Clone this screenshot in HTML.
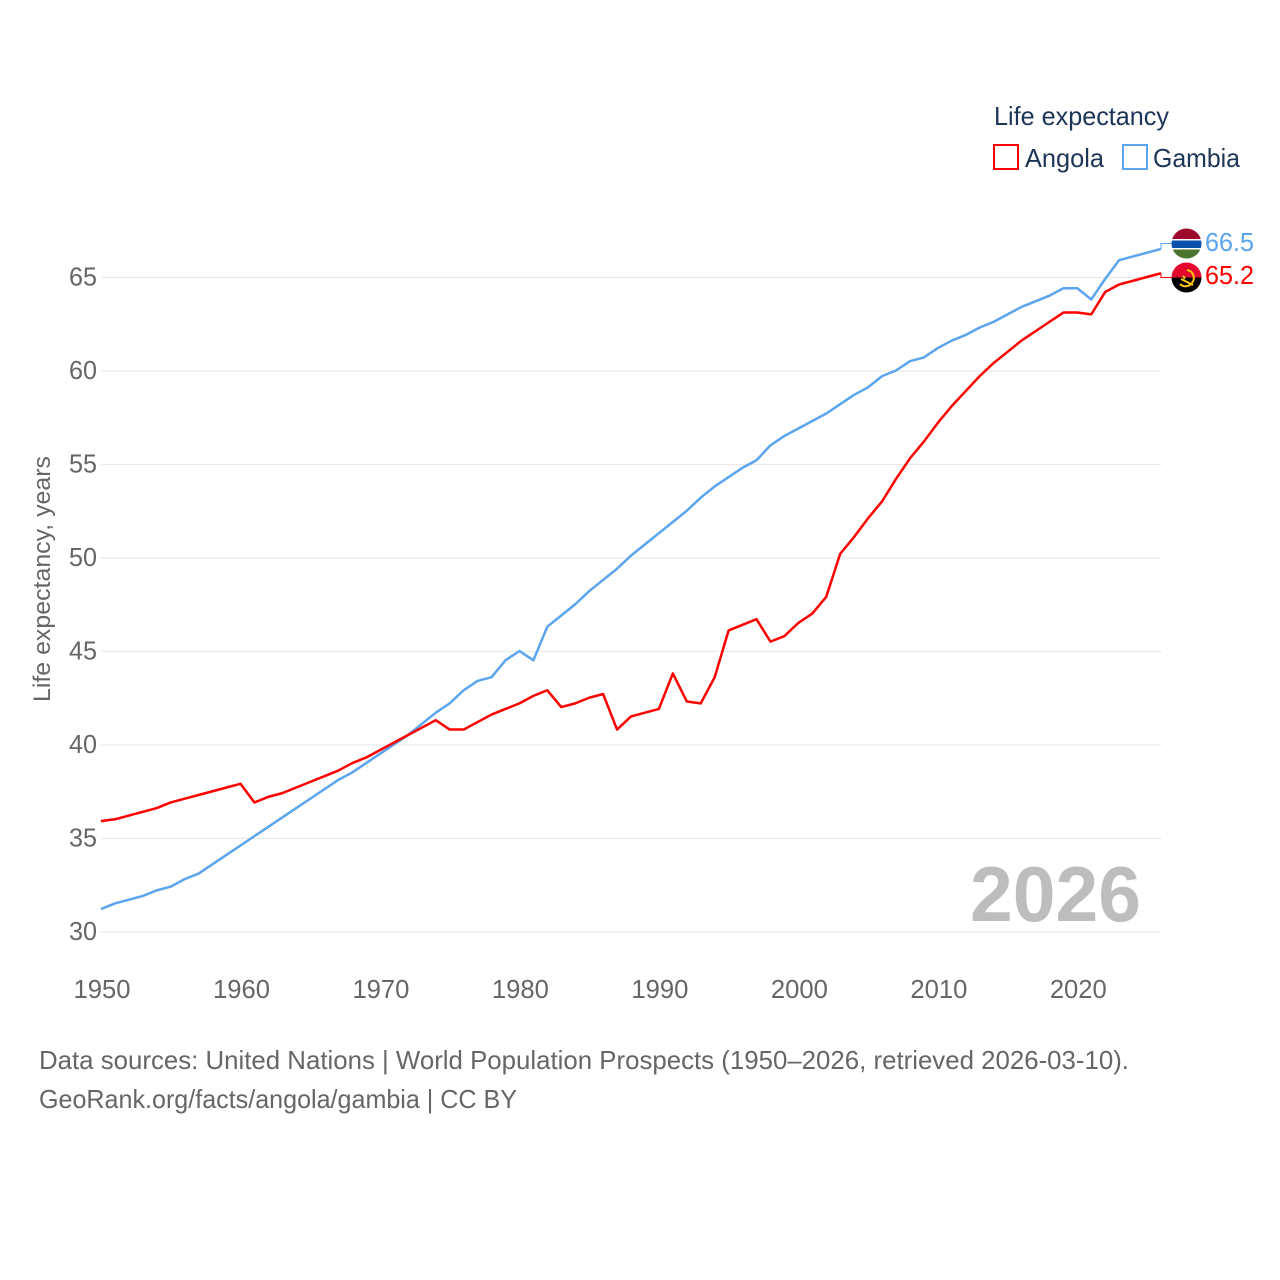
<!DOCTYPE html>
<html lang="en">
<head>
<meta charset="utf-8">
<title>Life expectancy: Angola and Gambia</title>
<style>
html,body{margin:0;padding:0;background:#fff;}
svg{display:block;}
text{font-family:"Liberation Sans",sans-serif;}
</style>
</head>
<body>
<svg id="chart" xmlns="http://www.w3.org/2000/svg" width="1280" height="1280" viewBox="0 0 1280 1280">
  <rect x="0" y="0" width="1280" height="1280" fill="#fff"/>
  <g id="grid"></g>
  <g id="yticks"></g>
  <g id="xticks"></g>
  <text x="50" y="579" transform="rotate(-90 50 579)" text-anchor="middle" font-size="24.5" fill="#666" textLength="246" lengthAdjust="spacingAndGlyphs">Life expectancy, years</text>
  <text x="1141" y="921" text-anchor="end" font-size="78" font-weight="bold" fill="#bdbdbd" textLength="171" lengthAdjust="spacingAndGlyphs">2026</text>
  <g id="series" transform="translate(0,-0.5)"></g>

  <g>
    <text x="994" y="125" font-size="25.6" fill="#1d3557" textLength="175" lengthAdjust="spacingAndGlyphs">Life expectancy</text>
    <g>
      <rect x="994" y="145" width="24" height="24" fill="#fff" stroke="#ff0000" stroke-width="2"/>
      <text x="1025" y="167" font-size="25.6" fill="#1d3557" textLength="79" lengthAdjust="spacingAndGlyphs">Angola</text>
    </g>
    <g>
      <rect x="1123" y="145" width="24" height="24" fill="#fff" stroke="#5ba4ee" stroke-width="2"/>
      <text x="1153" y="167" font-size="25.6" fill="#1d3557" textLength="87" lengthAdjust="spacingAndGlyphs">Gambia</text>
    </g>
  </g>

  <defs>
    <clipPath id="clip-gambia"><circle cx="1186.5" cy="243.5" r="15"/></clipPath>
    <clipPath id="clip-angola"><circle cx="1186.5" cy="277.5" r="15"/></clipPath>
  </defs>

  <g clip-path="url(#clip-gambia)">
    <rect x="1171" y="228" width="31" height="11" fill="#9e0a2b"/>
    <rect x="1171" y="239" width="31" height="1.5" fill="#fff"/>
    <rect x="1171" y="240.5" width="31" height="7.5" fill="#0b50ad"/>
    <rect x="1171" y="248" width="31" height="1.5" fill="#fff"/>
    <rect x="1171" y="249.5" width="31" height="10" fill="#4a7430"/>
  </g>
  <g clip-path="url(#clip-angola)">
    <rect x="1171" y="262" width="31" height="15.5" fill="#e4062f"/>
    <rect x="1171" y="277.5" width="31" height="16" fill="#000"/>
    <path d="M1187 270 A8 8 0 0 1 1192 283 A8 8 0 0 1 1180 284" fill="none" stroke="#f9c80e" stroke-width="2"/>
    <path d="M1181 279 L1193 285" fill="none" stroke="#f9c80e" stroke-width="2"/>
    <path d="M1182 275 L1186 277 L1184 280 Z" fill="#f9c80e"/>
  </g>

  <text x="1205" y="251" font-size="25.6" fill="#5ba4ee" textLength="49" lengthAdjust="spacingAndGlyphs">66.5</text>
  <text x="1205" y="284" font-size="25.6" fill="#ff0000" textLength="49" lengthAdjust="spacingAndGlyphs">65.2</text>

  <text x="39" y="1069" font-size="25.6" fill="#666" textLength="1090" lengthAdjust="spacingAndGlyphs">Data sources: United Nations | World Population Prospects (1950–2026, retrieved 2026-03-10).</text>
  <a><text x="39" y="1108" font-size="25.6" fill="#666" textLength="478" lengthAdjust="spacingAndGlyphs">GeoRank.org/facts/angola/gambia | CC BY</text></a>
</svg>

<script>
const startYear = 1950;
const yTickValues = [30, 35, 40, 45, 50, 55, 60, 65];
const xTickValues = [1950, 1960, 1970, 1980, 1990, 2000, 2010, 2020];
const angolaValues = [35.9,36.0,36.2,36.4,36.6,36.9,37.1,37.3,37.5,37.7,37.9,36.9,37.2,37.4,37.7,38.0,38.3,38.6,39.0,39.3,39.7,40.1,40.5,40.9,41.3,40.8,40.8,41.2,41.6,41.9,42.2,42.6,42.9,42.0,42.2,42.5,42.7,40.8,41.5,41.7,41.9,43.8,42.3,42.2,43.6,46.1,46.4,46.7,45.5,45.8,46.5,47.0,47.9,50.2,51.1,52.1,53.0,54.2,55.3,56.2,57.2,58.1,58.9,59.7,60.4,61.0,61.6,62.1,62.6,63.1,63.1,63.0,64.2,64.6,64.8,65.0,65.2];
const gambiaValues = [31.2,31.5,31.7,31.9,32.2,32.4,32.8,33.1,33.6,34.1,34.6,35.1,35.6,36.1,36.6,37.1,37.6,38.1,38.5,39.0,39.5,40.0,40.5,41.1,41.7,42.2,42.9,43.4,43.6,44.5,45.0,44.5,46.3,46.9,47.5,48.2,48.8,49.4,50.1,50.7,51.3,51.9,52.5,53.2,53.8,54.3,54.8,55.2,56.0,56.5,56.9,57.3,57.7,58.2,58.7,59.1,59.7,60.0,60.5,60.7,61.2,61.6,61.9,62.3,62.6,63.0,63.4,63.7,64.0,64.4,64.4,63.8,64.9,65.9,66.1,66.3,66.5];

const NS = 'http://www.w3.org/2000/svg';
const xScale = function (year) { return 101 + (year - 1950) * (1060 / 76); };
const yScale = function (value) { return 932 - (value - 30) * 18.7; };

const grid = document.getElementById('grid');
const yticks = document.getElementById('yticks');
const xticks = document.getElementById('xticks');
const series = document.getElementById('series');

yTickValues.forEach(function (v) {
  const line = document.createElementNS(NS, 'line');
  
  
  line.setAttribute('x1', xScale(1950));
  line.setAttribute('x2', xScale(2026));
  line.setAttribute('y1', yScale(v));
  line.setAttribute('y2', yScale(v));
  line.setAttribute('stroke', '#e9e9e9');
  line.setAttribute('stroke-width', '1.3');
  grid.appendChild(line);

  const label = document.createElementNS(NS, 'text');
  
  
  label.setAttribute('x', 97);
  label.setAttribute('y', yScale(v) + 8);
  label.setAttribute('text-anchor', 'end');
  label.setAttribute('font-size', '25.6');
  label.setAttribute('fill', '#666');
  label.setAttribute('textLength', '28');
  label.setAttribute('lengthAdjust', 'spacingAndGlyphs');
  label.textContent = String(v);
  yticks.appendChild(label);
});

xTickValues.forEach(function (year) {
  const label = document.createElementNS(NS, 'text');
  
  
  label.setAttribute('x', xScale(year) + 1);
  label.setAttribute('y', 998);
  label.setAttribute('text-anchor', 'middle');
  label.setAttribute('font-size', '25.6');
  label.setAttribute('fill', '#666');
  label.setAttribute('textLength', '57');
  label.setAttribute('lengthAdjust', 'spacingAndGlyphs');
  label.textContent = String(year);
  xticks.appendChild(label);
});

function buildPoints(values) {
  return values.map(function (v, i) {
    return xScale(startYear + i).toFixed(2) + ',' + yScale(v).toFixed(2);
  }).join(' ');
}

const gambiaLine = document.createElementNS(NS, 'polyline');


gambiaLine.setAttribute('points', buildPoints(gambiaValues));
gambiaLine.setAttribute('fill', 'none');
gambiaLine.setAttribute('stroke', '#5ba4ee');
gambiaLine.setAttribute('stroke-width', '2.5');
gambiaLine.setAttribute('stroke-linejoin', 'round');
series.appendChild(gambiaLine);

const angolaLine = document.createElementNS(NS, 'polyline');


angolaLine.setAttribute('points', buildPoints(angolaValues));
angolaLine.setAttribute('fill', 'none');
angolaLine.setAttribute('stroke', '#ff0000');
angolaLine.setAttribute('stroke-width', '2.5');
angolaLine.setAttribute('stroke-linejoin', 'round');
series.appendChild(angolaLine);

const gambiaEndY = yScale(gambiaValues[gambiaValues.length - 1]);
const angolaEndY = yScale(angolaValues[angolaValues.length - 1]);

const gambiaConnector = document.createElementNS(NS, 'path');


gambiaConnector.setAttribute('d', 'M' + xScale(2026) + ' ' + gambiaEndY + ' V244 H1172');
gambiaConnector.setAttribute('fill', 'none');
gambiaConnector.setAttribute('stroke', '#5ba4ee');
gambiaConnector.setAttribute('stroke-width', '1');
series.appendChild(gambiaConnector);

const angolaConnector = document.createElementNS(NS, 'path');


angolaConnector.setAttribute('d', 'M' + xScale(2026) + ' ' + angolaEndY + ' V278 H1172');
angolaConnector.setAttribute('fill', 'none');
angolaConnector.setAttribute('stroke', '#ff0000');
angolaConnector.setAttribute('stroke-width', '1');
series.appendChild(angolaConnector);
</script>
</body>
</html>
